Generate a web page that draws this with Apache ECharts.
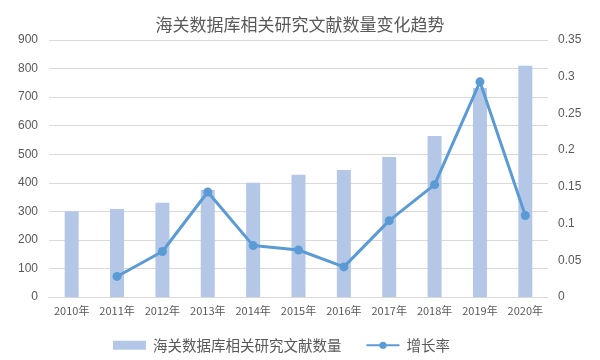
<!DOCTYPE html>
<html><head><meta charset="utf-8">
<script src="https://cdn.jsdelivr.net/npm/echarts@6/dist/echarts.min.js"></script>
<style>html,body{margin:0;padding:0;background:#fff}#c{width:600px;height:360px}</style>
</head><body><div id="c"></div>
<script>
var categories = ['2010年','2011年','2012年','2013年','2014年','2015年','2016年','2017年','2018年','2019年','2020年'];
var countValues = [300, 308, 330, 375, 400, 428, 445, 490, 564, 732, 810];
var rateValues = [null, 0.028, 0.062, 0.143, 0.070, 0.064, 0.041, 0.104, 0.153, 0.293, 0.111];
var leftTicks = {min: 0, max: 900, interval: 100};
var rightTicks = {min: 0, max: 0.35, interval: 0.05};
var seriesNames = ['海关数据库相关研究文献数量', '增长率'];
var titleText = '海关数据库相关研究文献数量变化趋势';

var font = '"Noto Sans CJK SC", "Liberation Sans", sans-serif';
var chart = echarts.init(document.getElementById('c'));
chart.setOption({
  animation: false,
  textStyle: {fontFamily: font},
  title: {text: titleText, left: 'center', top: 11, textStyle: {fontSize: 17, fontWeight: 'normal', color: '#595959', fontFamily: font}},
  grid: {left: 49, right: 52, top: 40, bottom: 63},
  legend: {top: 333, left: 108, itemGap: 24, itemWidth: 33, itemHeight: 9,
    textStyle: {fontSize: 14.5, color: '#595959', fontFamily: font, padding: [0, 0, 0, 2]},
    data: [{name: seriesNames[0], icon: 'rect'}, {name: seriesNames[1]}]},
  xAxis: {type: 'category', data: categories,
    axisLine: {lineStyle: {color: '#d9d9d9'}}, axisTick: {show: false},
    axisLabel: {color: '#595959', fontSize: 11, margin: 8, interval: 0, fontFamily: font}},
  yAxis: [
    {type: 'value', min: leftTicks.min, max: leftTicks.max, interval: leftTicks.interval,
     axisLine: {show: false}, axisTick: {show: false},
     splitLine: {lineStyle: {color: '#d9d9d9'}},
     axisLabel: {color: '#595959', fontSize: 12, margin: 11, fontFamily: 'Liberation Sans, sans-serif'}},
    {type: 'value', min: rightTicks.min, max: rightTicks.max, interval: rightTicks.interval,
     axisLine: {show: false}, axisTick: {show: false}, splitLine: {show: false},
     axisLabel: {color: '#595959', fontSize: 12, margin: 10, fontFamily: 'Liberation Sans, sans-serif',
       formatter: function(v){ return String(+v.toFixed(2)); }}}
  ],
  series: [
    {name: seriesNames[0], type: 'bar', data: countValues, barWidth: 14,
     itemStyle: {color: '#b4c7e7'}},
    {name: seriesNames[1], type: 'line', yAxisIndex: 1, data: rateValues,
     symbol: 'circle', symbolSize: 9, connectNulls: false,
     lineStyle: {color: '#5b9bd5', width: 3}, itemStyle: {color: '#5b9bd5'}}
  ]
});
</script></body></html>
